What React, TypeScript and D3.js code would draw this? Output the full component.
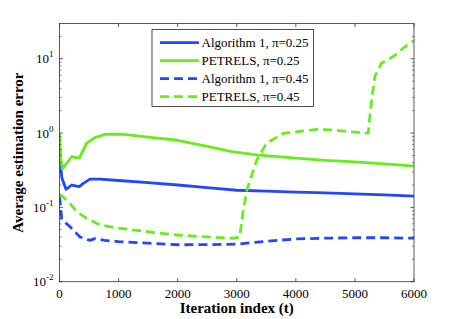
import React from "react";
import * as d3 from "d3";

// iteration index and error values
const alg25T = [0, 15, 40, 110, 206, 335, 403, 516, 685, 1000, 1500, 2000, 2500, 3000, 3500, 4000, 4500, 5000, 5500, 6000];
const alg25V = [0.72, 0.4, 0.25, 0.175, 0.2, 0.19, 0.21, 0.24, 0.24, 0.23, 0.215, 0.2, 0.185, 0.17, 0.165, 0.16, 0.157, 0.152, 0.147, 0.142];

const pet25T = [0, 15, 50, 206, 335, 460, 600, 770, 1050, 1500, 2000, 2500, 2940, 3340, 4000, 4500, 5000, 5500, 6000];
const pet25V = [1.0, 0.5, 0.33, 0.48, 0.46, 0.73, 0.87, 0.96, 0.97, 0.88, 0.8, 0.66, 0.56, 0.51, 0.46, 0.43, 0.41, 0.385, 0.36];

const alg45T = [0, 40, 178, 347, 516, 600, 770, 1000, 1500, 2000, 2500, 3000, 3500, 4000, 4500, 5000, 5500, 6000];
const alg45V = [0.14, 0.068, 0.055, 0.04, 0.036, 0.038, 0.036, 0.0346, 0.033, 0.0314, 0.0315, 0.032, 0.035, 0.0376, 0.0385, 0.039, 0.039, 0.0385];

const pet45T = [0, 30, 178, 290, 460, 685, 968, 1500, 1983, 2500, 2940, 3050, 3100, 3170, 3337, 3506, 3785, 4350, 4630, 5140, 5225, 5283, 5338, 5452, 5648, 5930, 6000];
const pet45V = [0.15, 0.145, 0.113, 0.0875, 0.071, 0.058, 0.053, 0.047, 0.0425, 0.04, 0.0384, 0.04, 0.08, 0.17, 0.43, 0.73, 0.99, 1.12, 1.1, 1.0, 1.0, 2.8, 5.8, 8.7, 10.7, 16.4, 17.5];

const xTicks = [0, 1000, 2000, 3000, 4000, 5000, 6000];
const yTicks = [-2, -1, 0, 1];

const BLUE = "#2446ff";
const GREEN = "#66ee1a";

const series = [
  { name: "Algorithm 1, \u03c0=0.25", t: alg25T, v: alg25V, color: BLUE, dash: null },
  { name: "PETRELS, \u03c0=0.25", t: pet25T, v: pet25V, color: GREEN, dash: null },
  { name: "Algorithm 1, \u03c0=0.45", t: alg45T, v: alg45V, color: BLUE, dash: "9,5" },
  { name: "PETRELS, \u03c0=0.45", t: pet45T, v: pet45V, color: GREEN, dash: "9,5" },
];

const W = 457;
const H = 319;
const margin = { left: 59.5, right: 43, top: 23.5, bottom: 37.3 };
const font = "Liberation Serif, DejaVu Serif, serif";

export default function App() {
  const x = d3.scaleLinear().domain([0, 6000]).range([margin.left, W - margin.right]);
  const y = d3.scaleLog().domain([0.01, 29.8]).range([H - margin.bottom, margin.top]);
  const line = d3
    .line<[number, number]>()
    .x((d) => x(d[0]))
    .y((d) => y(d[1]));

  const x0 = x.range()[0];
  const x1 = x.range()[1];
  const y0 = y.range()[0];
  const y1 = y.range()[1];

  // minor log ticks
  const minor: number[] = [];
  for (let e = -2; e <= 1; e++) {
    for (let m = 2; m <= 9; m++) {
      const v = m * Math.pow(10, e);
      if (v < 29.8) minor.push(v);
    }
  }

  const legX = 152;
  const legY = 29.5;

  return (
    <svg
      width={W}
      height={H}
      style={{ position: "absolute", left: 0, top: 0, background: "#fff", fontFamily: font }}
    >
      <defs>
        <clipPath id="plot">
          <rect x={x0} y={y1} width={x1 - x0} height={y0 - y1} />
        </clipPath>
      </defs>
      <g clipPath="url(#plot)">
        {series.map((s) => (
          <path
            key={s.name}
            d={line(s.t.map((t, i) => [t, s.v[i]] as [number, number])) || ""}
            fill="none"
            stroke={s.color}
            strokeWidth={2.8}
            strokeDasharray={s.dash || undefined}
            strokeLinejoin="round"
          />
        ))}
      </g>

      {/* box */}
      <rect x={x0} y={y1} width={x1 - x0} height={y0 - y1} fill="none" stroke="#333" strokeWidth={0.8} />

      {/* x ticks */}
      {xTicks.map((t) => (
        <g key={t}>
          <line x1={x(t)} x2={x(t)} y1={y0} y2={y0 - 3.5} stroke="#333" strokeWidth={0.8} />
          <line x1={x(t)} x2={x(t)} y1={y1} y2={y1 + 3.5} stroke="#333" strokeWidth={0.8} />
          <text x={x(t)} y={y0 + 16} textAnchor="middle" fontSize={13}>
            {t}
          </text>
        </g>
      ))}

      {/* y ticks */}
      {yTicks.map((e) => {
        const v = Math.pow(10, e);
        return (
          <g key={e}>
            <line x1={x0} x2={x0 + 3.5} y1={y(v)} y2={y(v)} stroke="#333" strokeWidth={0.8} />
            <line x1={x1} x2={x1 - 3.5} y1={y(v)} y2={y(v)} stroke="#333" strokeWidth={0.8} />
            <text x={x0 - 6} y={y(v) + 4.5} textAnchor="end" fontSize={13}>
              10
              <tspan fontSize={9} dy={-6}>
                {e}
              </tspan>
            </text>
          </g>
        );
      })}
      {minor.map((v) => (
        <g key={v}>
          <line x1={x0} x2={x0 + 2} y1={y(v)} y2={y(v)} stroke="#333" strokeWidth={0.6} />
          <line x1={x1} x2={x1 - 2} y1={y(v)} y2={y(v)} stroke="#333" strokeWidth={0.6} />
        </g>
      ))}

      {/* axis titles */}
      <text x={(x0 + x1) / 2} y={313} textAnchor="middle" fontSize={15} fontWeight="bold">
        Iteration index (t)
      </text>
      <text
        transform={`translate(23,${(y0 + y1) / 2}) rotate(-90)`}
        textAnchor="middle"
        fontSize={15}
        fontWeight="bold"
      >
        Average estimation error
      </text>

      {/* legend */}
      <rect x={legX} y={legY} width={161.5} height={77} fill="#fff" stroke="#222" strokeWidth={0.8} />
      {series.map((s, i) => {
        const ly = legY + 13.2 + i * 18;
        return (
          <g key={s.name}>
            <line
              x1={legX + 8}
              x2={legX + 47}
              y1={ly}
              y2={ly}
              stroke={s.color}
              strokeWidth={2.8}
              strokeDasharray={s.dash || undefined}
            />
            <text x={legX + 49.5} y={ly + 4.5} fontSize={13}>
              {s.name}
            </text>
          </g>
        );
      })}
    </svg>
  );
}
